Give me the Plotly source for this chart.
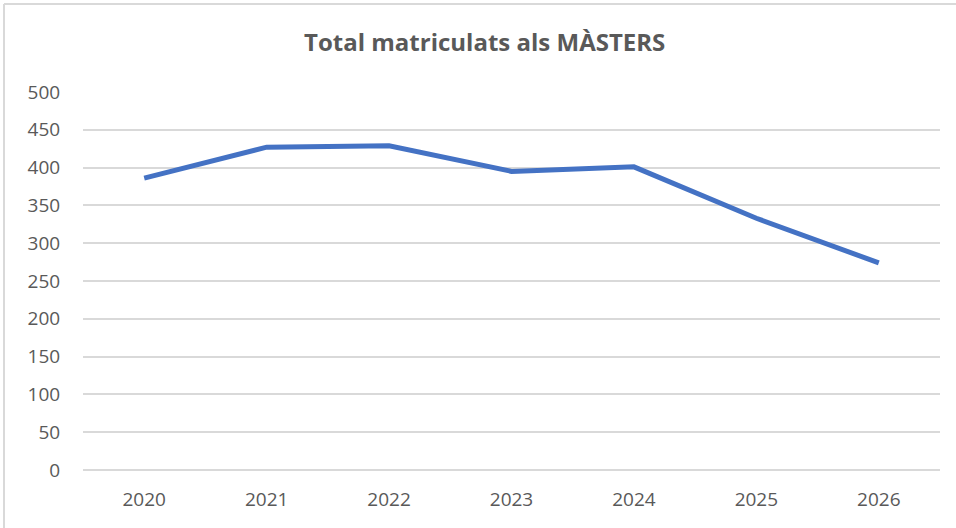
import plotly.graph_objects as go

years = ["2020", "2021", "2022", "2023", "2024", "2025", "2026"]
matriculats = [386, 427, 429, 395, 401, 333, 274]
y_ticks = [0, 50, 100, 150, 200, 250, 300, 350, 400, 450, 500]

FONT = "Open Sans, sans-serif"

fig = go.Figure(go.Scatter(
    x=years, y=matriculats, mode="lines",
    line=dict(color="#4472C4", width=5, shape="linear"),
    showlegend=False, hoverinfo="x+y",
))

fig.update_layout(
    width=956, height=528,
    paper_bgcolor="white", plot_bgcolor="white",
    margin=dict(l=83, r=16, t=92, b=58),
    title=dict(text="<b>Total matriculats als MÀSTERS</b>", x=0.507, xanchor="center",
               y=1 - 43/528, yanchor="middle",
               font=dict(family=FONT, size=24, color="#595959")),
    xaxis=dict(type="category", range=[-0.5, 6.5], showgrid=False, zeroline=False,
               showline=False, ticks="outside", ticklen=12, tickcolor="rgba(0,0,0,0)",
               tickfont=dict(family=FONT, size=19, color="#595959")),
    yaxis=dict(range=[0, 500], tickvals=y_ticks, showgrid=True, gridcolor="#d9d9d9",
               gridwidth=2, zeroline=True, zerolinecolor="#d9d9d9", zerolinewidth=2,
               showline=False, ticks="outside", ticklen=18,
               tickcolor="rgba(0,0,0,0)",
               tickfont=dict(family=FONT, size=19, color="#595959")),
    shapes=[
        dict(type="line", xref="paper", yref="paper", x0=-79/857, x1=-79/857,
             y0=-58/378, y1=1 + 88/378, line=dict(color="#d9d9d9", width=2)),
        dict(type="line", xref="paper", yref="paper", x0=-79/857, x1=1 + 16/857,
             y0=1 + 88/378, y1=1 + 88/378, line=dict(color="#d9d9d9", width=2)),
    ],
)

fig.write_html("out.html", config={"displayModeBar": False},
               post_script="document.body.style.margin='0';")
